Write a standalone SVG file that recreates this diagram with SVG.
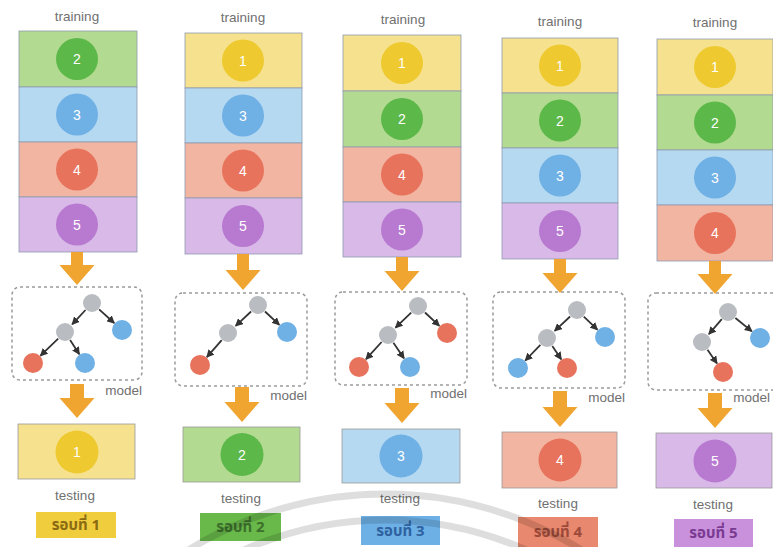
<svg xmlns="http://www.w3.org/2000/svg" width="773" height="547" viewBox="0 0 773 547">
<style>
.lbl{font-family:"Liberation Sans",Arial,sans-serif;font-size:13.5px;fill:#707070;text-anchor:middle}
.mdl{font-family:"Liberation Sans",Arial,sans-serif;font-size:13.5px;fill:#707070;text-anchor:end}
.num{font-family:"Liberation Sans",Arial,sans-serif;font-size:14px;fill:#ffffff;text-anchor:middle}
.row{stroke:#8e9bb0;stroke-width:0.8}
.y{fill:#f6e28e}.g{fill:#b2da90}.b{fill:#b6d9f2}.r{fill:#f2b5a1}.p{fill:#d9b9e8}
.cy{fill:#eec92f}.cg{fill:#5db84a}.cb{fill:#6fb0e5}.cr{fill:#e8735d}.cp{fill:#b879d0}
.box{fill:none;stroke:#9a9a9a;stroke-width:1.5;stroke-dasharray:3 3}
.tb{stroke:#9a9a9a;stroke-width:0.8}
.n{fill:#b9bcc0}.nb{fill:#6fb0e5}.nr{fill:#e8735d}
.e{stroke:#333;stroke-width:1.8;fill:none;marker-end:url(#ah)}
.oa{fill:#efa530}
.badge{font-family:"Noto Sans Thai","Leelawadee UI","Tahoma","DejaVu Sans",sans-serif;font-size:15px;font-weight:bold;text-anchor:middle}
</style>
<defs>
<marker id="ah" markerWidth="8" markerHeight="8" refX="7" refY="4" orient="auto" markerUnits="userSpaceOnUse">
<path d="M0,0 L8,4 L0,8 z" fill="#333"/>
</marker>
</defs>
<rect width="773" height="547" fill="#ffffff"/>

<!-- Column 1 -->
<g id="training1">
<text class="lbl" x="77" y="21">training</text>
<rect class="row g" x="19" y="31" width="118" height="56"/>
<rect class="row b" x="19" y="87" width="118" height="55"/>
<rect class="row r" x="19" y="142" width="118" height="55"/>
<rect class="row p" x="19" y="197" width="118" height="55"/>
<circle class="cg" cx="77" cy="59" r="21"/><text class="num" x="77" y="64">2</text>
<circle class="cb" cx="77" cy="114.5" r="21"/><text class="num" x="77" y="119.5">3</text>
<circle class="cr" cx="77" cy="169.5" r="21"/><text class="num" x="77" y="174.5">4</text>
<circle class="cp" cx="77" cy="224.5" r="21"/><text class="num" x="77" y="229.5">5</text>
</g>
<g id="model1">
<rect class="box" x="12" y="287" width="130" height="93" rx="8"/>
<path class="e" d="M99.1,309.3 L114.2,323"/>
<path class="e" d="M85.5,310 L72.2,324.3"/>
<path class="e" d="M58.2,338.6 L40.5,355.7"/>
<path class="e" d="M70.1,340 L79.3,354.2"/>
<circle class="n" cx="92" cy="303" r="9"/>
<circle class="nb" cx="122" cy="330" r="10"/>
<circle class="n" cx="65" cy="332" r="9"/>
<circle class="nr" cx="33" cy="363" r="10"/>
<circle class="nb" cx="85" cy="363" r="10"/>
<text class="mdl" x="142" y="395">model</text>
</g>
<g id="testing1">
<rect class="tb y" x="18" y="424" width="117" height="55"/>
<circle class="cy" cx="77" cy="452" r="21.5"/><text class="num" x="77" y="457">1</text>
<text class="lbl" x="75" y="500">testing</text>
</g>
<g id="round1">
<rect x="36" y="512" width="80" height="26" fill="#f0cd3c"/>
<text class="badge" x="76" y="530" fill="#8a6a12">รอบที่ 1</text>
</g>

<!-- Column 2 -->
<g id="training2">
<text class="lbl" x="243" y="22">training</text>
<rect class="row y" x="185" y="33" width="117" height="55"/>
<rect class="row b" x="185" y="88" width="117" height="55"/>
<rect class="row r" x="185" y="143" width="117" height="55"/>
<rect class="row p" x="185" y="198" width="117" height="56"/>
<circle class="cy" cx="243" cy="60.5" r="21"/><text class="num" x="243" y="65.5">1</text>
<circle class="cb" cx="243" cy="115.5" r="21"/><text class="num" x="243" y="120.5">3</text>
<circle class="cr" cx="243" cy="170.5" r="21"/><text class="num" x="243" y="175.5">4</text>
<circle class="cp" cx="243" cy="226" r="21"/><text class="num" x="243" y="231">5</text>
</g>
<g id="model2">
<rect class="box" x="175" y="293" width="132" height="93" rx="8"/>
<path class="e" d="M265,311.5 L279.3,324.8"/>
<path class="e" d="M251.1,311.5 L235.7,325.8"/>
<path class="e" d="M221.7,340.2 L206.9,357.1"/>
<circle class="n" cx="258" cy="305" r="9"/>
<circle class="nb" cx="287" cy="332" r="10"/>
<circle class="n" cx="228" cy="333" r="9"/>
<circle class="nr" cx="200" cy="365" r="10"/>
<text class="mdl" x="307" y="400">model</text>
</g>
<g id="testing2">
<rect class="tb g" x="183" y="427" width="117" height="55"/>
<circle class="cg" cx="242" cy="454.5" r="21.5"/><text class="num" x="242" y="459.5">2</text>
<text class="lbl" x="241" y="503">testing</text>
</g>
<g id="round2">
<rect x="200" y="513" width="81" height="28" fill="#68b84a"/>
<text class="badge" x="240.5" y="532" fill="#3d6f2c">รอบที่ 2</text>
</g>

<!-- Column 3 -->
<g id="training3">
<text class="lbl" x="403" y="24">training</text>
<rect class="row y" x="343" y="35" width="118" height="56"/>
<rect class="row g" x="343" y="91" width="118" height="56"/>
<rect class="row r" x="343" y="147" width="118" height="55"/>
<rect class="row p" x="343" y="202" width="118" height="55"/>
<circle class="cy" cx="402" cy="63" r="21"/><text class="num" x="402" y="68">1</text>
<circle class="cg" cx="402" cy="119" r="21"/><text class="num" x="402" y="124">2</text>
<circle class="cr" cx="402" cy="174.5" r="21"/><text class="num" x="402" y="179.5">4</text>
<circle class="cp" cx="402" cy="229.5" r="21"/><text class="num" x="402" y="234.5">5</text>
</g>
<g id="model3">
<rect class="box" x="335" y="292" width="132" height="93" rx="8"/>
<path class="e" d="M425,312.5 L439.3,325.8"/>
<path class="e" d="M411.2,312.6 L395.5,327.7"/>
<path class="e" d="M381.6,342 L366,359.2"/>
<path class="e" d="M393.4,342.8 L404,358.3"/>
<circle class="n" cx="418" cy="306" r="9"/>
<circle class="nr" cx="447" cy="333" r="10"/>
<circle class="n" cx="388" cy="335" r="9"/>
<circle class="nr" cx="359" cy="367" r="10"/>
<circle class="nb" cx="410" cy="367" r="10"/>
<text class="mdl" x="467" y="398">model</text>
</g>
<g id="testing3">
<rect class="tb b" x="342" y="429" width="118" height="54"/>
<circle class="cb" cx="401" cy="456" r="21.5"/><text class="num" x="401" y="461">3</text>
<text class="lbl" x="400" y="503">testing</text>
</g>
<g id="round3">
<rect x="361" y="516" width="79" height="29" fill="#6db0e6"/>
<text class="badge" x="400.5" y="536" fill="#2e62a0">รอบที่ 3</text>
</g>

<!-- Column 4 -->
<g id="training4">
<text class="lbl" x="560" y="26">training</text>
<rect class="row y" x="502" y="38" width="116" height="55"/>
<rect class="row g" x="502" y="93" width="116" height="55"/>
<rect class="row b" x="502" y="148" width="116" height="55"/>
<rect class="row p" x="502" y="203" width="116" height="56"/>
<circle class="cy" cx="560" cy="65.5" r="21"/><text class="num" x="560" y="70.5">1</text>
<circle class="cg" cx="560" cy="120.5" r="21"/><text class="num" x="560" y="125.5">2</text>
<circle class="cb" cx="560" cy="175.5" r="21"/><text class="num" x="560" y="180.5">3</text>
<circle class="cp" cx="560" cy="231" r="21"/><text class="num" x="560" y="236">5</text>
</g>
<g id="model4">
<rect class="box" x="493" y="292" width="132" height="96" rx="8"/>
<path class="e" d="M583.8,316.6 L597.4,329.7"/>
<path class="e" d="M570.1,316.5 L554.7,330.8"/>
<path class="e" d="M540.4,344.8 L525.3,360.5"/>
<path class="e" d="M552.3,345.9 L561.2,359.3"/>
<circle class="n" cx="577" cy="310" r="9"/>
<circle class="nb" cx="605" cy="337" r="10"/>
<circle class="n" cx="547" cy="338" r="9"/>
<circle class="nb" cx="518" cy="368" r="10"/>
<circle class="nr" cx="567" cy="368" r="10"/>
<text class="mdl" x="625" y="402">model</text>
</g>
<g id="testing4">
<rect class="tb r" x="502" y="432" width="115" height="56"/>
<circle class="cr" cx="560" cy="460" r="21.5"/><text class="num" x="560" y="465">4</text>
<text class="lbl" x="558" y="508">testing</text>
</g>
<g id="round4">
<rect x="518" y="517" width="80" height="30" fill="#e8886e"/>
<text class="badge" x="558" y="537" fill="#9c4a3a">รอบที่ 4</text>
</g>

<!-- Column 5 -->
<g id="training5">
<text class="lbl" x="715" y="27">training</text>
<rect class="row y" x="657" y="39" width="116" height="56"/>
<rect class="row g" x="657" y="95" width="116" height="55"/>
<rect class="row b" x="657" y="150" width="116" height="55"/>
<rect class="row r" x="657" y="205" width="116" height="56"/>
<circle class="cy" cx="715" cy="67" r="21"/><text class="num" x="715" y="72">1</text>
<circle class="cg" cx="715" cy="122.5" r="21"/><text class="num" x="715" y="127.5">2</text>
<circle class="cb" cx="715" cy="177.5" r="21"/><text class="num" x="715" y="182.5">3</text>
<circle class="cr" cx="715" cy="233" r="21"/><text class="num" x="715" y="238">4</text>
</g>
<g id="model5">
<rect class="box" x="648" y="293" width="136" height="97" rx="8"/>
<path class="e" d="M735.4,318 L751.9,331.4"/>
<path class="e" d="M721.8,319.2 L708.9,334.1"/>
<path class="e" d="M707.5,349.8 L717,363.4"/>
<circle class="n" cx="728" cy="312" r="9"/>
<circle class="nb" cx="760" cy="338" r="10"/>
<circle class="n" cx="702" cy="342" r="9"/>
<circle class="nr" cx="723" cy="372" r="10"/>
<text class="mdl" x="770" y="402">model</text>
</g>
<g id="testing5">
<rect class="tb p" x="656" y="433" width="116" height="55"/>
<circle class="cp" cx="715" cy="461" r="21.5"/><text class="num" x="715" y="466">5</text>
<text class="lbl" x="713" y="509">testing</text>
</g>
<g id="round5">
<rect x="674" y="519" width="79" height="28" fill="#c991dc"/>
<text class="badge" x="713.5" y="538" fill="#7a3a92">รอบที่ 5</text>
</g>

<!-- Connectors: orange flow arrows -->
<g id="connectors">
<path class="oa" d="M71,252 H83 V265 H94.5 L77,285 L59.5,265 H71 Z"/>
<path class="oa" d="M237,254 H249 V270 H260.5 L243,290 L225.5,270 H237 Z"/>
<path class="oa" d="M396,257 H408 V271 H419.5 L402,291 L384.5,271 H396 Z"/>
<path class="oa" d="M554,259 H566 V273 H577.5 L560,293 L542.5,273 H554 Z"/>
<path class="oa" d="M709,261 H721 V274 H732.5 L715,294 L697.5,274 H709 Z"/>
<path class="oa" d="M70,384 H84 V398 H94.5 L77,418 L59.5,398 H70 Z"/>
<path class="oa" d="M235,387 H249 V402 H259.5 L242,422 L224.5,402 H235 Z"/>
<path class="oa" d="M395,388 H409 V403 H419.5 L402,423 L384.5,403 H395 Z"/>
<path class="oa" d="M553,391 H567 V407 H577.5 L560,427 L542.5,407 H553 Z"/>
<path class="oa" d="M708,393 H722 V408 H732.5 L715,428 L697.5,408 H708 Z"/>
</g>

<!-- background watermark arcs -->
<g id="watermark" fill="none" stroke="#000" stroke-opacity="0.13" stroke-width="7">
<circle cx="385" cy="867" r="373"/>
<circle cx="385" cy="867" r="347"/>
</g>
</svg>
